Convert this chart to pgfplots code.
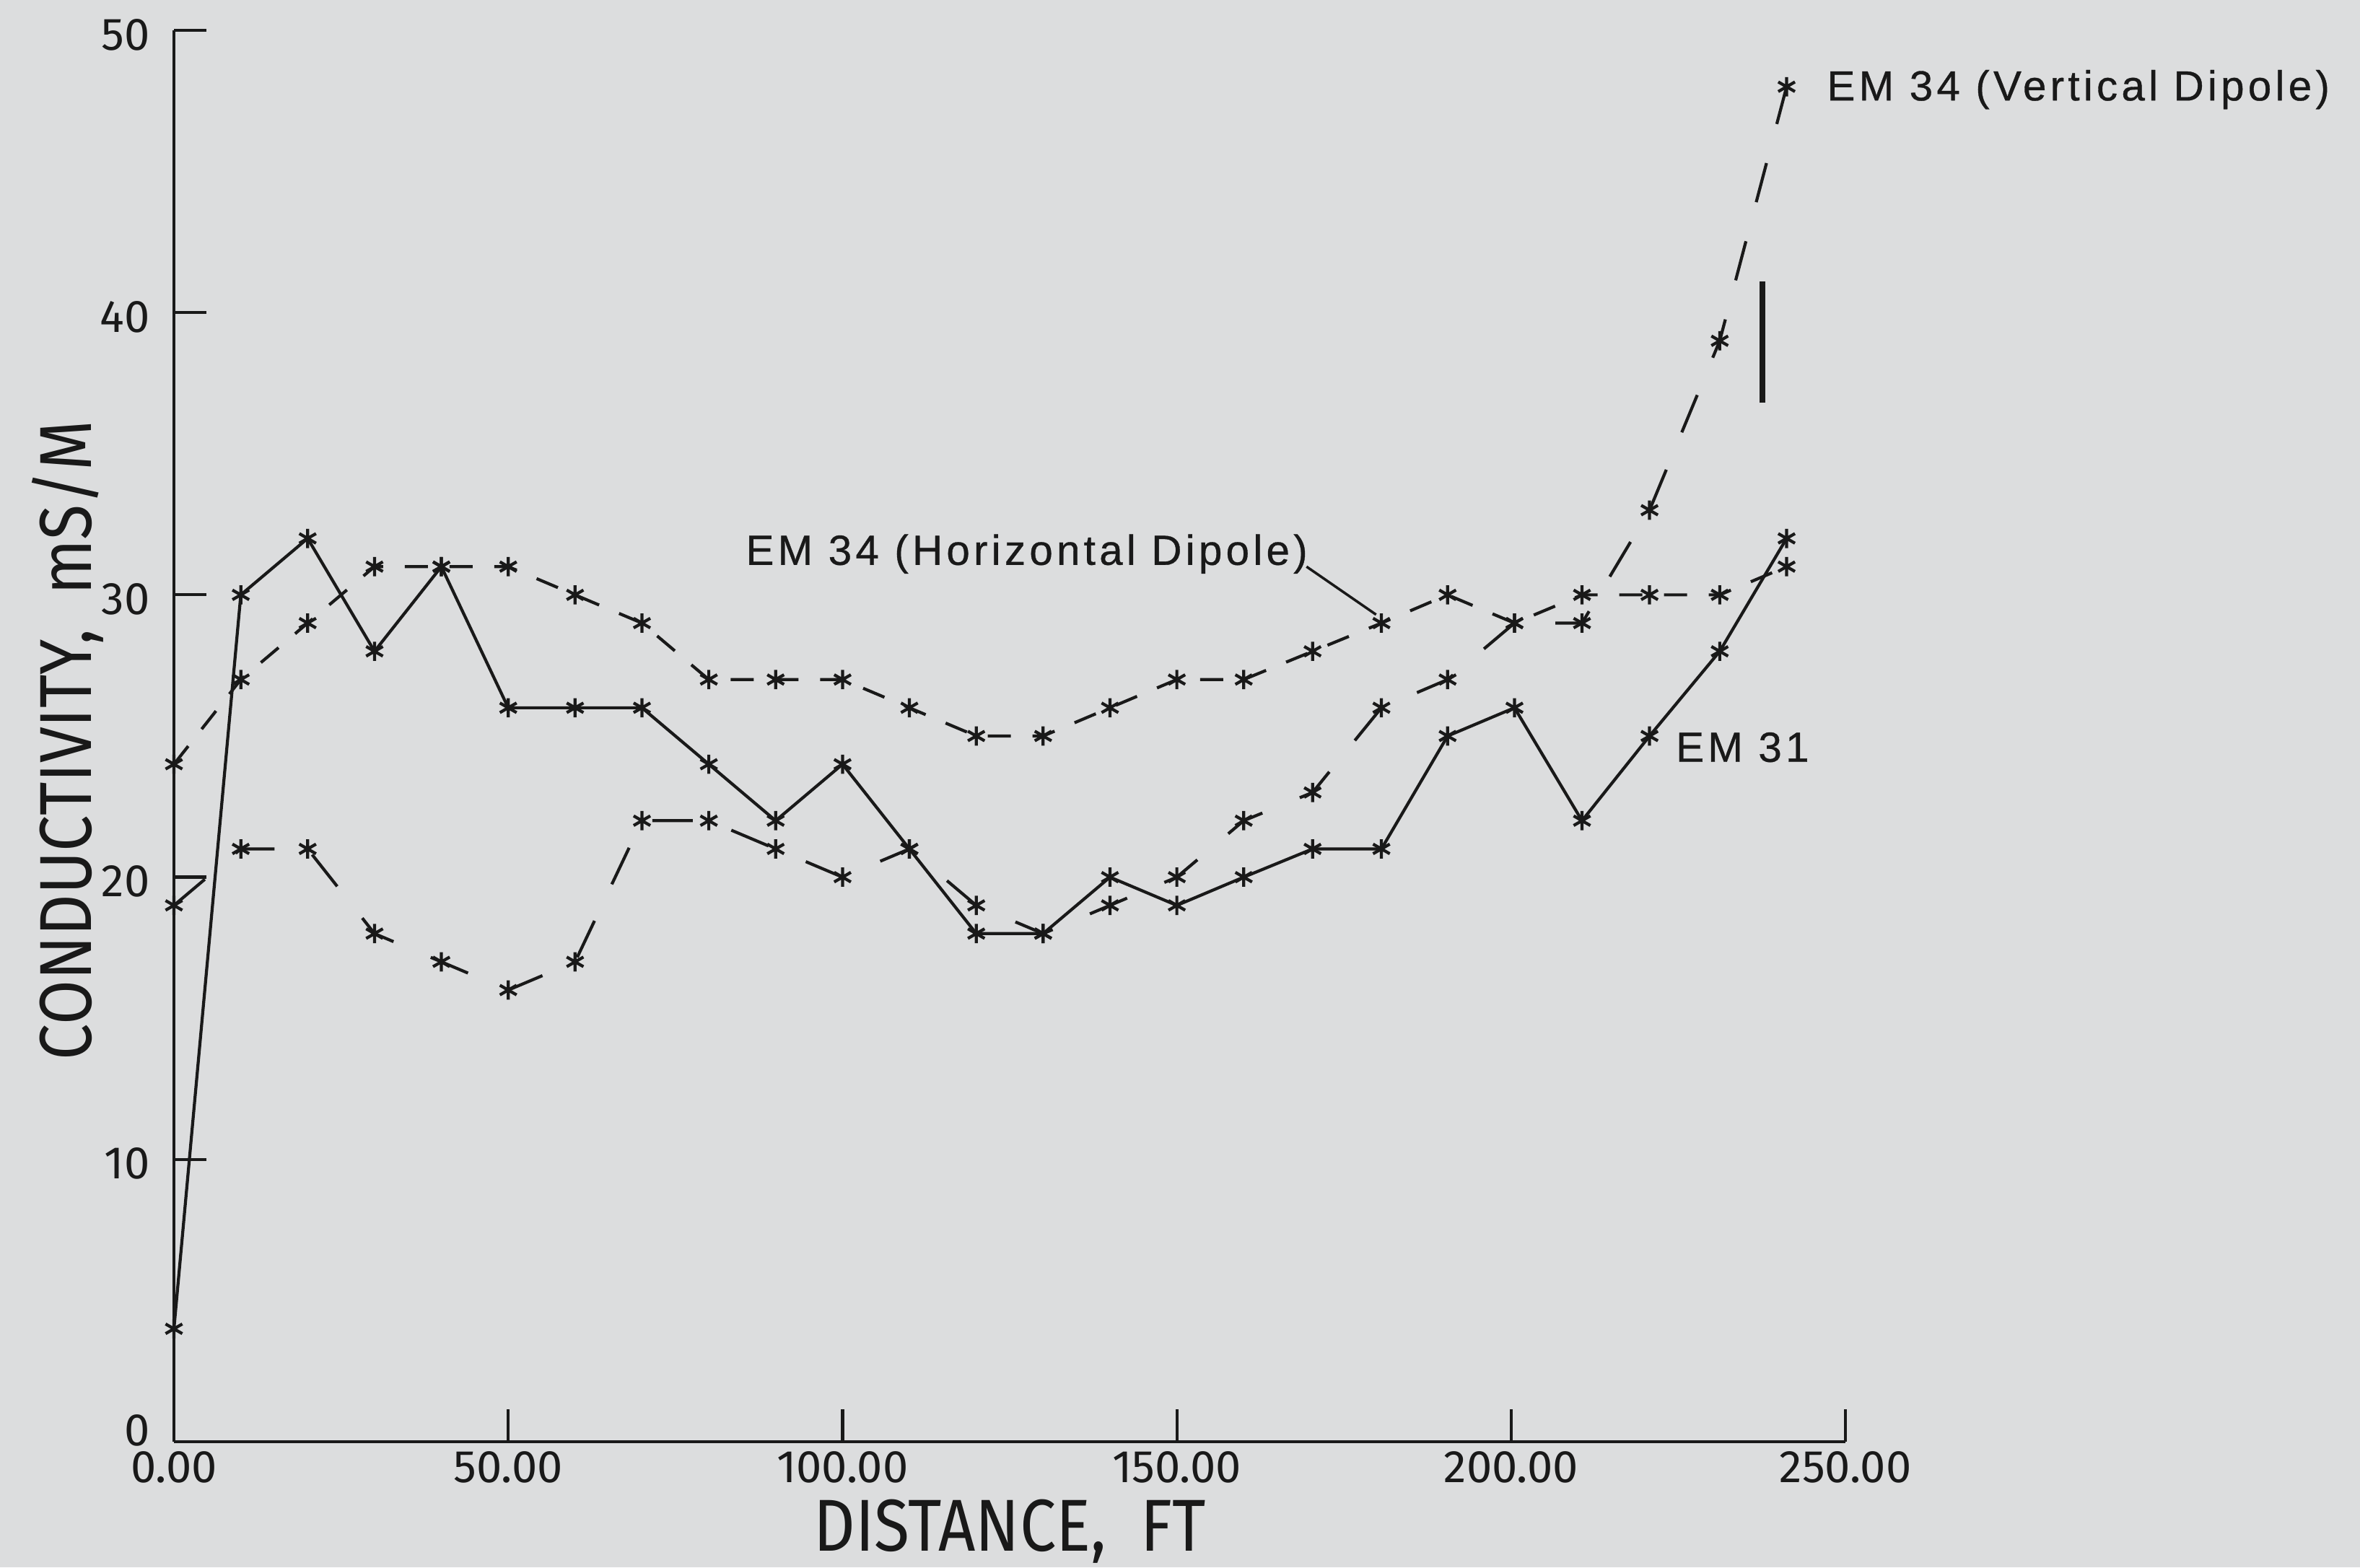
\documentclass[border=0pt]{standalone}
\usepackage{fontspec}
\usepackage{pgfplots}
\usepackage{pgfplotstable}
\pgfplotsset{compat=1.18}
\setmainfont{Liberation Sans}
\newfontfamily\thinfont{Fira Sans}
\newfontfamily\labfont[FakeStretch=0.88]{Fira Sans}
\newfontfamily\annfont[LetterSpace=9, FakeBold=0.6]{Liberation Sans}
\definecolor{bgcol}{RGB}{220,221,222}
\definecolor{ink}{RGB}{25,25,25}

% EM 31 (solid)
\pgfplotstableread{
x y
0 4
10 30
20 32
30 28
40 31
50 26
60 26
70 26
80 24
90 22
100 24
110 21
120 18
130 18
140 20
150 19
160 20
170.3 21
180.6 21
190.5 25
200.5 26
210.6 22
220.7 25
231.2 28
241.2 32
}\emthirtyone

% EM 34 horizontal dipole (short dash)
\pgfplotstableread{
x y
0 24
10 27
20 29
30 31
40 31
50 31
60 30
70 29
80 27
90 27
100 27
110 26
120 25
130 25
140 26
150 27
160 27
170.3 28
180.6 29
190.5 30
200.5 29
210.6 30
220.7 30
231.2 30
241.2 31
}\horizdip

% EM 34 vertical dipole (long dash)
\pgfplotstableread{
x y
0 19
10 21
20 21
30 18
40 17
50 16
60 17
70 22
80 22
90 21
100 20
110 21
120 19
130 18
140 19
150 20
160 22
170.3 23
180.6 26
190.5 27
200.5 29
210.6 29
220.7 33
231.2 39
241.2 48
}\vertdip

\begin{document}
\begin{tikzpicture}
\path[use as bounding box, fill=bgcol] (-12.05mm,-8.7mm) rectangle (151.45mm,99.9mm);
\begin{axis}[
  at={(0,0)}, anchor=south west,
  scale only axis, width=115.8mm, height=97.8mm,
  xmin=0, xmax=250, ymin=0, ymax=50,
  axis x line*=bottom, axis y line*=left,
  axis line style={-, ink, line width=0.7pt},
  xtick={0,50,...,250}, ytick={10,20,...,50},
  extra y ticks={0},
  extra y tick style={yticklabel style={yshift=1.1mm}},
  tick align=inside, major tick length=2.25mm,
  tick style={ink, line width=0.6pt},
  /pgf/number format/assume math mode=true,
  xticklabel style={/pgf/number format/.cd, fixed, fixed zerofill, precision=2, /tikz/.cd,
    font=\thinfont\fontsize{9}{10}\selectfont, inner sep=0pt, yshift=-0.6mm, text=ink},
  yticklabel style={font=\thinfont\fontsize{9}{10}\selectfont, inner sep=0pt, xshift=-1.6mm, yshift=-0.3mm, text=ink},
  xlabel={DISTANCE,~~FT},
  ylabel={CONDUCTIVITY,~~mS/M},
  xlabel style={at={(axis description cs:0.5,0)}, anchor=center, yshift=-6.2mm,
    font=\labfont\fontsize{14.5}{16}\selectfont, text=ink},
  ylabel style={at={([xshift=-7.35mm]axis description cs:0,0.497)}, anchor=center,
    font=\labfont\fontsize{14.5}{16}\selectfont, text=ink},
  clip=false,
]
\addplot[ink, line width=0.6pt, mark=asterisk, mark size=1.9pt, mark options={solid}]
  table {\emthirtyone};
\addplot[ink, line width=0.6pt, dash pattern=on 1.6mm off 1.5mm, mark=asterisk, mark size=1.9pt, mark options={solid}]
  table {\horizdip};
\addplot[ink, line width=0.6pt, dash pattern=on 2.8mm off 2.8mm, mark=asterisk, mark size=1.9pt, mark options={solid}]
  table {\vertdip};

\node[anchor=west, inner sep=0pt, text=ink, font=\annfont\fontsize{8.3}{10}\selectfont]
  at (axis cs:85.4,31.45) {EM 34 (Horizontal Dipole)};
\draw[ink, line width=0.5pt] (axis cs:169.4,31.0) -- (axis cs:179.8,29.3);
\node[anchor=west, inner sep=0pt, text=ink, font=\annfont\fontsize{8.3}{10}\selectfont]
  at (axis cs:224.5,24.6) {EM 31};
\node[anchor=west, inner sep=0pt, text=ink, font=\annfont\fontsize{8.3}{10}\selectfont]
  at (axis cs:247.1,47.9) {EM 34 (Vertical Dipole)};
\draw[ink, line width=1.1pt] (axis cs:237.6,36.8) -- (axis cs:237.6,41.1);
\end{axis}
\end{tikzpicture}
\end{document}
